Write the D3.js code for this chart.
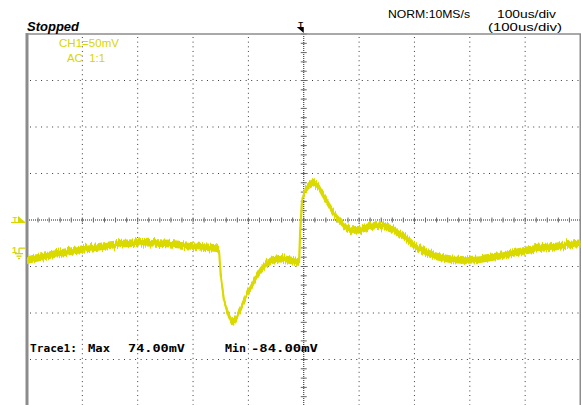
<!DOCTYPE html>
<html>
<head>
<meta charset="utf-8">
<script src="https://cdn.jsdelivr.net/npm/d3@7"></script>
<style>
  body { margin: 0; background: #fff; }
  svg { display: block; }
</style>
</head>
<body>
<svg id="scope" width="581" height="405"></svg>
<script>
// trace samples: time in us, level in mV
const timeUs = [-500, -459, -400, -330, -280, -242, -200, -157, -153, -150, -144, -137, -131, -124, -115, -106, -97, -88, -79, -68, -57, -43, -25, -8.5, -6.5, -3, 2.4, 9.6, 17.7, 26, 33, 47.6, 60, 73, 87, 102, 116, 131, 145, 160, 174, 189, 201, 219, 241, 264, 292, 319, 346, 373, 400, 427, 454, 481, 500];
const traceMv = [-9.7, -4.3, 2.2, 8.1, 9.2, 8.1, 5.4, 3.2, 1, -25.9, -52.8, -66.8, -75.4, -74.3, -63.6, -50.6, -39.9, -30.2, -21.6, -14, -9.7, -8.1, -9.7, -11.9, 20, 55, 65.7, 71.1, 73.8, 70, 62.5, 47.4, 35.6, 26.9, 22.6, 23.2, 25.9, 28, 27.5, 24.8, 18.3, 11.9, 5.4, -1.1, -5.9, -8.6, -9.7, -8.6, -5.9, -2.7, 0.5, 3.2, 4.8, 7, 8.6];

const timeDivs = d3.range(-5, 6);       // 100 us per division
const levelDivs = d3.range(-4, 5);      // 50 mV per division
const mvPerDiv = 50;
const groundDiv = -0.67;                // channel 1 ground marker, below centre

const headerLabels = ['NORM:10MS/s', '100us/div', '(100us/div)'];
const channelLabels = ['CH1=50mV', 'AC  1:1'];
const measureLabels = ['Trace1:', 'Max', '74.00mV', 'Min', '-84.00mV'];

const traceColor = '#dada00';
const textYellow = '#d6d600';
const gridColor = '#3a3a3a';
const frameColor = '#8c8c8c';

const svg = d3.select('#scope');
svg.append('rect').attr('width', 581).attr('height', 405).attr('fill', '#fff');

// jitter filter: shifts columns up/down only, like the sampled noise on screen
const defs = svg.append('defs');
const jitter = defs.append('filter')
    .attr('id', 'jitter')
    .attr('x', '-2%').attr('y', '-10%')
    .attr('width', '104%').attr('height', '120%')
    .attr('color-interpolation-filters', 'sRGB');
jitter.append('feTurbulence')
    .attr('type', 'fractalNoise')
    .attr('baseFrequency', '0.9 0.015')
    .attr('numOctaves', 2)
    .attr('seed', 3)
    .attr('result', 'noise');
jitter.append('feColorMatrix')
    .attr('in', 'noise')
    .attr('type', 'matrix')
    .attr('values', '0 0 0 0 0.5  0 1 0 0 0  0 0 0 0 0  0 0 0 0 1')
    .attr('result', 'map');
jitter.append('feDisplacementMap')
    .attr('in', 'SourceGraphic')
    .attr('in2', 'map')
    .attr('scale', 7)
    .attr('xChannelSelector', 'R')
    .attr('yChannelSelector', 'G');

const x = d3.scaleLinear().domain([-500, 500]).range([27, 580.5]);
const yDiv = d3.scaleLinear().domain([-4, 4]).range([406, 34]);
const y = mv => yDiv(mv / mvPerDiv + groundDiv);

const xDiv = d => x(d * 100);

// dotted grid
svg.append('g')
    .selectAll('line')
    .data(timeDivs.filter(d => d !== 0 && Math.abs(d) < 5))
    .join('line')
    .attr('x1', d => xDiv(d)).attr('x2', d => xDiv(d))
    .attr('y1', yDiv(4) + 3).attr('y2', 405)
    .attr('stroke', gridColor)
    .attr('stroke-width', 1)
    .attr('stroke-dasharray', '1,3.65');

svg.append('g')
    .selectAll('line')
    .data(levelDivs.filter(d => d !== 0 && Math.abs(d) < 4))
    .join('line')
    .attr('x1', xDiv(-5) + 3).attr('x2', xDiv(5))
    .attr('y1', d => yDiv(d)).attr('y2', d => yDiv(d))
    .attr('stroke', gridColor)
    .attr('stroke-width', 1)
    .attr('stroke-dasharray', '1,4.53');

// centre axes with fifth-division ticks
const centre = svg.append('g');
centre.append('line')
    .attr('x1', xDiv(-5)).attr('x2', xDiv(5))
    .attr('y1', yDiv(0)).attr('y2', yDiv(0))
    .attr('stroke', '#222').attr('stroke-dasharray', '1,1');
centre.append('line')
    .attr('x1', xDiv(0)).attr('x2', xDiv(0))
    .attr('y1', yDiv(4)).attr('y2', 405)
    .attr('stroke', '#222').attr('stroke-dasharray', '1,1');

centre.selectAll('.xt')
    .data(d3.range(-25, 26).map(i => i / 5))
    .join('line')
    .attr('class', 'xt')
    .attr('x1', d => xDiv(d)).attr('x2', d => xDiv(d))
    .attr('y1', yDiv(0) - 2.5).attr('y2', yDiv(0) + 2.5)
    .attr('stroke', '#666');

centre.selectAll('.yt')
    .data(d3.range(-20, 21).map(i => i / 5))
    .join('line')
    .attr('class', 'yt')
    .attr('x1', xDiv(0) - 3).attr('x2', xDiv(0) + 3)
    .attr('y1', d => yDiv(d)).attr('y2', d => yDiv(d))
    .attr('stroke', '#666');

// frame
svg.append('line')
    .attr('x1', 27).attr('x2', 27).attr('y1', 33).attr('y2', 405)
    .attr('stroke', frameColor).attr('stroke-width', 3);
svg.append('line')
    .attr('x1', 27).attr('x2', 581).attr('y1', 34).attr('y2', 34)
    .attr('stroke', frameColor).attr('stroke-width', 1.5);
svg.append('line')
    .attr('x1', 580.5).attr('x2', 580.5).attr('y1', 34).attr('y2', 405)
    .attr('stroke', frameColor).attr('stroke-width', 2);

// trace: noise is vertical, so draw a band of constant vertical height
const points = d3.zip(timeUs, traceMv);
const trace = svg.append('g').attr('filter', 'url(#jitter)');
trace.append('path')
    .datum(points)
    .attr('fill', traceColor)
    .attr('d', d3.area()
        .x(d => x(d[0]))
        .y0(d => y(d[1]) - 3.9)
        .y1(d => y(d[1]) + 3.9));
trace.append('path')
    .datum(points)
    .attr('fill', 'none')
    .attr('stroke', traceColor)
    .attr('stroke-width', 2.2)
    .attr('d', d3.line()
        .x(d => x(d[0]))
        .y(d => y(d[1])));

// texts
const sans = '"Liberation Sans", Arial, sans-serif';
const mono = '"DejaVu Sans Mono", monospace';

svg.append('text')
    .attr('x', 27).attr('y', 31)
    .attr('font-family', sans).attr('font-size', 12)
    .attr('font-style', 'italic').attr('font-weight', 'bold')
    .attr('textLength', 52).attr('lengthAdjust', 'spacingAndGlyphs')
    .text('Stopped');

const headerPos = [[388, 18, 82], [497, 18, 59], [488, 31, 74]];
svg.append('g')
    .selectAll('text')
    .data(headerLabels)
    .join('text')
    .attr('x', (d, i) => headerPos[i][0])
    .attr('y', (d, i) => headerPos[i][1])
    .attr('textLength', (d, i) => headerPos[i][2])
    .attr('lengthAdjust', 'spacingAndGlyphs')
    .attr('font-family', sans).attr('font-size', 11)
    .text(d => d);

const channelPos = [[59, 47, 60], [67, 62, 38]];
svg.append('g')
    .selectAll('text')
    .data(channelLabels)
    .join('text')
    .attr('x', (d, i) => channelPos[i][0])
    .attr('y', (d, i) => channelPos[i][1])
    .attr('textLength', (d, i) => channelPos[i][2])
    .attr('lengthAdjust', 'spacingAndGlyphs')
    .attr('fill', textYellow)
    .attr('font-family', sans).attr('font-size', 11)
    .style('white-space', 'pre')
    .text(d => d);

const measurePos = [[30, 47], [88, 22], [128, 57], [225, 21], [251, 67]];
svg.append('g')
    .selectAll('text')
    .data(measureLabels)
    .join('text')
    .attr('x', (d, i) => measurePos[i][0])
    .attr('y', 352)
    .attr('textLength', (d, i) => measurePos[i][1])
    .attr('lengthAdjust', 'spacingAndGlyphs')
    .attr('font-family', mono).attr('font-size', 11)
    .attr('font-weight', 'bold')
    .text(d => d);

// trigger position marker (top)
const tx = xDiv(0);
svg.append('text')
    .attr('x', tx - 3).attr('y', 27)
    .attr('font-family', sans).attr('font-size', 8).attr('font-weight', 'bold')
    .attr('text-anchor', 'middle')
    .text('T');
svg.append('path')
    .attr('d', `M${tx - 7},27 L${tx},27 L${tx},33 Z`)
    .attr('fill', '#000');

// trigger level marker (left)
const ty = yDiv(0);
svg.append('text')
    .attr('x', 15).attr('y', ty + 2)
    .attr('font-family', sans).attr('font-size', 8).attr('font-weight', 'bold')
    .attr('fill', textYellow).attr('text-anchor', 'middle')
    .text('T');
svg.append('path')
    .attr('d', `M18,${ty - 4} L25,${ty + 2} L18,${ty + 2} Z`)
    .attr('fill', textYellow);
svg.append('line')
    .attr('x1', 11).attr('x2', 25).attr('y1', ty + 2.5).attr('y2', ty + 2.5)
    .attr('stroke', textYellow).attr('stroke-width', 1.2);

// channel 1 ground marker (left)
const gy = yDiv(groundDiv);
svg.append('text')
    .attr('x', 14.5).attr('y', gy + 2)
    .attr('font-family', sans).attr('font-size', 9).attr('font-weight', 'bold')
    .attr('fill', textYellow).attr('text-anchor', 'middle')
    .text('1');
const gnd = svg.append('g').attr('stroke', textYellow).attr('stroke-width', 1.3);
gnd.append('line').attr('x1', 19).attr('x2', 25).attr('y1', gy - 3).attr('y2', gy - 3);
gnd.append('line').attr('x1', 19).attr('x2', 19).attr('y1', gy - 3).attr('y2', gy + 2);
gnd.append('line').attr('x1', 15).attr('x2', 23).attr('y1', gy + 2.5).attr('y2', gy + 2.5);
gnd.append('line').attr('x1', 16.5).attr('x2', 21.5).attr('y1', gy + 5).attr('y2', gy + 5);
gnd.append('line').attr('x1', 18).attr('x2', 20).attr('y1', gy + 7.5).attr('y2', gy + 7.5);
</script>
</body>
</html>
